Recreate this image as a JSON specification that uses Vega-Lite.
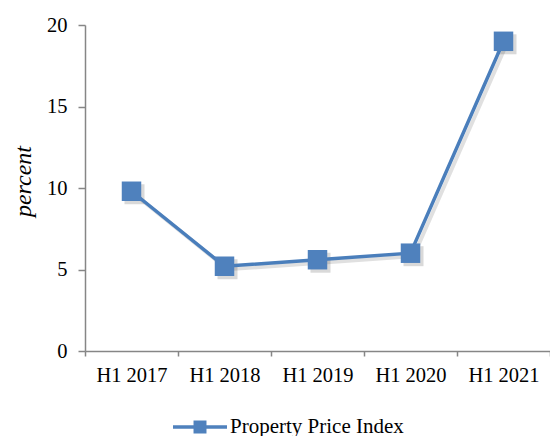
{
  "$schema": "https://vega.github.io/schema/vega-lite/v6.json",
  "width": 465,
  "height": 326,
  "autosize": "none",
  "padding": {"left": 85, "top": 25, "right": 0, "bottom": 85},
  "background": "white",
  "config": {
    "view": {"stroke": null},
    "font": "Liberation Serif",
    "axis": {"grid": false, "domainColor": "#868686", "tickColor": "#868686", "domainWidth": 1.5, "tickWidth": 1.5, "labelFont": "Liberation Serif", "labelColor": "black", "labelFontSize": 20.5, "titleFont": "Liberation Serif"}
  },
  "data": {
    "values": [
      {"period": "H1 2017", "value": 9.8, "series": "Property Price Index"},
      {"period": "H1 2018", "value": 5.2, "series": "Property Price Index"},
      {"period": "H1 2019", "value": 5.6, "series": "Property Price Index"},
      {"period": "H1 2020", "value": 6.0, "series": "Property Price Index"},
      {"period": "H1 2021", "value": 19.0, "series": "Property Price Index"}
    ]
  },
  "encoding": {
    "x": {"field": "period", "type": "ordinal", "sort": null,
      "scale": {"type": "band", "paddingInner": 0, "paddingOuter": 0},
      "axis": {"title": null, "labelAngle": 0, "tickBand": "extent", "tickSize": 5, "labelPadding": 9}},
    "y": {"field": "value", "type": "quantitative",
      "scale": {"domain": [0, 20], "nice": false},
      "axis": {"title": "percent", "titleFontStyle": "italic", "titleFontWeight": "normal", "titleFontSize": 24, "titleColor": "black", "values": [0, 5, 10, 15, 20], "tickSize": 7, "labelPadding": 11, "titlePadding": 11, "titleY": 156}}
  },
  "layer": [
    {"mark": {"type": "line", "color": "#000000", "opacity": 0.12, "strokeWidth": 4, "xOffset": 3, "yOffset": 3}},
    {"mark": {"type": "point", "shape": "square", "filled": true, "color": "#000000", "opacity": 0.15, "size": 400, "xOffset": 3, "yOffset": 3}},
    {"mark": {"type": "line", "color": "#4A7EBB", "strokeWidth": 3.5}},
    {"mark": {"type": "point", "shape": "square", "filled": true, "opacity": 1, "size": 380},
     "encoding": {
       "color": {"field": "series", "type": "nominal", "scale": {"range": ["#4F81BD"]},
         "legend": {"title": null, "orient": "none", "legendX": 88, "legendY": 375, "padding": 0,
           "labelFontSize": 21, "labelColor": "black", "labelFont": "Liberation Serif", "labelOffset": 3, "labelLimit": 0,
           "symbolType": "M-1,-0.065H1V0.065H-1Z M-0.24,-0.24H0.24V0.24H-0.24Z",
           "symbolSize": 2916, "symbolStrokeWidth": 0, "symbolFillColor": "#4F81BD", "symbolOpacity": 1}}
     }}
  ]
}
